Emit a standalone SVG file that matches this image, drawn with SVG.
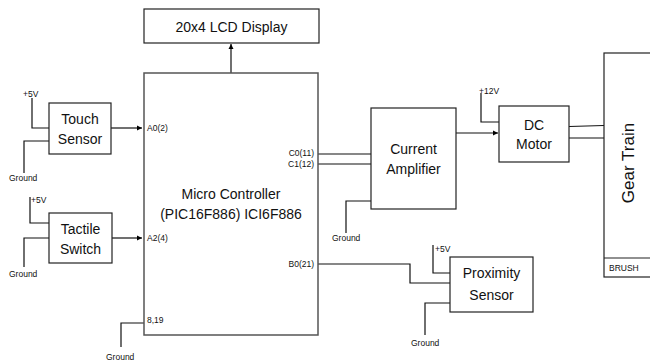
<svg xmlns="http://www.w3.org/2000/svg" width="650" height="364" viewBox="0 0 650 364">
<defs>
<marker id="arr" markerWidth="6" markerHeight="6" refX="5" refY="3" orient="auto" markerUnits="userSpaceOnUse">
<path d="M0,0.5 L5,3 L0,5.5 Z" fill="#000"/>
</marker>
<style>
.box{fill:#fff;stroke:#222;stroke-width:1.2}
.main{fill:#fff;stroke:#555;stroke-width:1.5}
.t{font-family:"Liberation Sans",Arial,sans-serif;font-size:14px;fill:#111;text-anchor:middle;dominant-baseline:central}
.s{font-family:"Liberation Sans",Arial,sans-serif;font-size:8.5px;fill:#111;dominant-baseline:central}
.w{fill:none;stroke:#111;stroke-width:1.2}
</style>
</defs>
<rect width="650" height="364" fill="#fff"/>
<g id="connectors">
<path class="w" d="M32,98 V128 H49"/>
<path class="w" d="M49,141 H24 V173"/>
<path class="w" d="M111,128 H142" marker-end="url(#arr)"/>
<path class="w" d="M30,197 V223 H49"/>
<path class="w" d="M49,238 H24 V267"/>
<path class="w" d="M112,238 H142" marker-end="url(#arr)"/>
<path class="w" d="M231,73 V44" marker-end="url(#arr)"/>
<path class="w" d="M318,154 H371"/>
<path class="w" d="M318,164 H371"/>
<path class="w" d="M371,201 H346 V233"/>
<path class="w" d="M456,133 H498" marker-end="url(#arr)"/>
<path class="w" d="M481,93 V122 H499"/>
<path class="w" d="M569,126.5 L604,125.5" stroke="#777"/>
<path class="w" d="M569,138 H604" stroke="#444"/>
<path class="w" d="M318,264 H410 V283 H450"/>
<path class="w" d="M433,245 V273 H450"/>
<path class="w" d="M450,303 H425 V335"/>
<path class="w" d="M144,323 H121 V347"/>
</g>
<g id="touch">
<rect class="box" x="49" y="103" width="62" height="51"/>
<text class="t" x="80" y="119">Touch</text>
<text class="t" x="80" y="139">Sensor</text>
<text class="s" x="23" y="94">+5V</text>
<text class="s" x="9" y="178">Ground</text>
</g>
<g id="tactile">
<rect class="box" x="49" y="213" width="63" height="50"/>
<text class="t" x="80.5" y="229">Tactile</text>
<text class="t" x="80.5" y="249">Switch</text>
<text class="s" x="31" y="200">+5V</text>
<text class="s" x="9" y="274">Ground</text>
</g>
<g id="lcd">
<rect class="box" x="144" y="9" width="175" height="34"/>
<text class="t" x="231.5" y="27">20x4 LCD Display</text>
</g>
<g id="mcu">
<rect class="main" x="144" y="73" width="174" height="262"/>
<text class="t" x="231" y="194">Micro Controller</text>
<text class="t" x="231" y="214">(PIC16F886) ICI6F886</text>
<text class="s" x="147" y="128">A0(2)</text>
<text class="s" x="147" y="238">A2(4)</text>
<text class="s" x="314" y="153" text-anchor="end">C0(11)</text>
<text class="s" x="314" y="164" text-anchor="end">C1(12)</text>
<text class="s" x="314" y="264" text-anchor="end">B0(21)</text>
<text class="s" x="147" y="320">8,19</text>
<text class="s" x="106" y="357">Ground</text>
</g>
<g id="amp">
<rect class="box" x="371" y="108" width="85" height="101"/>
<text class="t" x="413.5" y="149">Current</text>
<text class="t" x="413.5" y="169">Amplifier</text>
<text class="s" x="332" y="238">Ground</text>
</g>
<g id="motor">
<rect class="box" x="499" y="106" width="70" height="56"/>
<text class="t" x="534" y="125">DC</text>
<text class="t" x="534" y="144">Motor</text>
<text class="s" x="479" y="91">+12V</text>
</g>
<g id="gear">
<rect class="box" x="604" y="53" width="60" height="224"/>
<line x1="604" y1="258" x2="650" y2="258" stroke="#222" stroke-width="1.2"/>
<text class="t" x="628" y="163" transform="rotate(-90 628 163)" style="font-size:17px">Gear Train</text>
<text class="s" x="609" y="268">BRUSH</text>
</g>
<g id="prox">
<rect class="box" x="450" y="257" width="83" height="55"/>
<text class="t" x="491.5" y="273">Proximity</text>
<text class="t" x="491.5" y="295">Sensor</text>
<text class="s" x="435" y="249">+5V</text>
<text class="s" x="411" y="343">Ground</text>
</g>
</svg>
